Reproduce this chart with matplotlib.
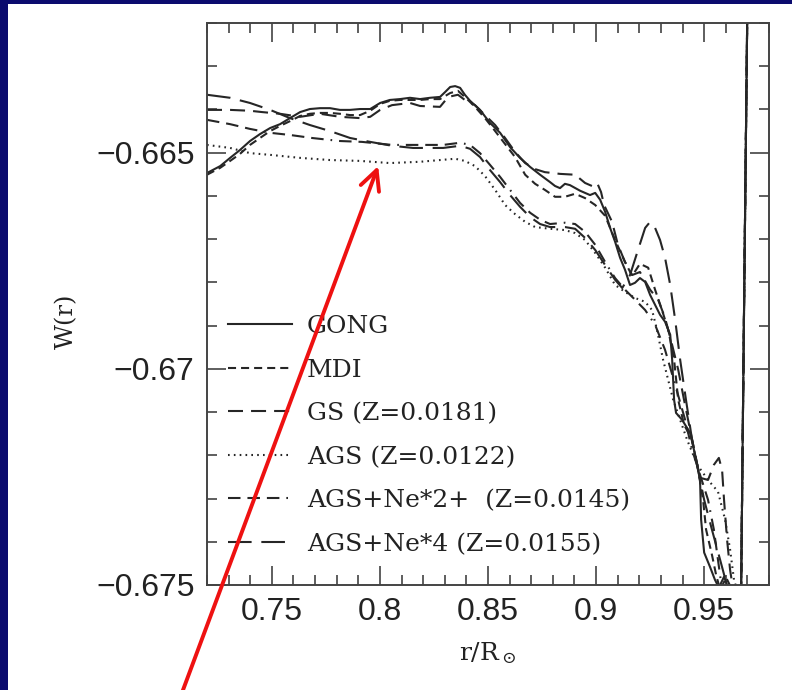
import matplotlib.pyplot as plt
from matplotlib.patches import Rectangle

plt.rcParams['lines.scale_dashes'] = False
plt.rcParams['mathtext.fontset'] = 'dejavuserif'

# W(r) profiles against fractional radius r/R_sun
gong_r = [0.7200, 0.7261, 0.7307, 0.7352, 0.7399, 0.7445, 0.7492, 0.7538, 0.7584, 0.7631,
          0.7676, 0.7723, 0.7769, 0.7815, 0.7862, 0.7908, 0.7955, 0.8001, 0.8046, 0.8093,
          0.8139, 0.8186, 0.8232, 0.8278, 0.8301, 0.8325, 0.8348, 0.8371, 0.8393, 0.8417,
          0.8463, 0.8509, 0.8556, 0.8602, 0.8648, 0.8695, 0.8741, 0.8787, 0.8810, 0.8833,
          0.8856, 0.8879, 0.8926, 0.8972, 0.8996, 0.9019, 0.9042, 0.9065, 0.9088, 0.9111,
          0.9134, 0.9157, 0.9180, 0.9203, 0.9227, 0.9250, 0.9273, 0.9296, 0.9319, 0.9343,
          0.9352, 0.9361, 0.9370, 0.9398, 0.9435, 0.9463, 0.9481, 0.9486, 0.9500, 0.9527,
          0.9550, 0.9568, 0.9592, 0.9611, 0.9643, 0.9671, 0.9685, 0.9699, 0.9708]
gong_w = [-0.66547, -0.66531, -0.66512, -0.66494, -0.66473, -0.66457, -0.66443, -0.66434, -0.66420, -0.66406,
          -0.66399, -0.66397, -0.66397, -0.66401, -0.66401, -0.66399, -0.66399, -0.66385, -0.66378, -0.66376,
          -0.66373, -0.66376, -0.66373, -0.66371, -0.66360, -0.66348, -0.66346, -0.66350, -0.66366, -0.66380,
          -0.66401, -0.66431, -0.66454, -0.66487, -0.66512, -0.66533, -0.66551, -0.66568, -0.66577, -0.66582,
          -0.66572, -0.66575, -0.66588, -0.66598, -0.66593, -0.66609, -0.66637, -0.66674, -0.66706, -0.66743,
          -0.66771, -0.66806, -0.66801, -0.66790, -0.66799, -0.66829, -0.66852, -0.66875, -0.66891, -0.66921,
          -0.66979, -0.67072, -0.67102, -0.67118, -0.67148, -0.67210, -0.67257, -0.67349, -0.67425, -0.67458,
          -0.67488, -0.67506, -0.67481, -0.67506, -0.67511, -0.67511, -0.66840, -0.66200, -0.66008]

mdi_r = [0.7200, 0.7261, 0.7307, 0.7352, 0.7399, 0.7445, 0.7492, 0.7538, 0.7584, 0.7631,
         0.7676, 0.7723, 0.7769, 0.7815, 0.7862, 0.7908, 0.7955, 0.8001, 0.8046, 0.8093,
         0.8139, 0.8186, 0.8232, 0.8278, 0.8325, 0.8361, 0.8393, 0.8440, 0.8486, 0.8533,
         0.8579, 0.8625, 0.8672, 0.8718, 0.8763, 0.8810, 0.8856, 0.8903, 0.8949, 0.8996,
         0.9042, 0.9088, 0.9134, 0.9167, 0.9203, 0.9241, 0.9273, 0.9305, 0.9334, 0.9361,
         0.9380, 0.9407, 0.9444, 0.9472, 0.9495, 0.9509, 0.9536, 0.9555, 0.9574, 0.9602,
         0.9629, 0.9671, 0.9685, 0.9699, 0.9708]
mdi_w = [-0.66551, -0.66535, -0.66519, -0.66503, -0.66482, -0.66466, -0.66450, -0.66438, -0.66427, -0.66415,
         -0.66410, -0.66408, -0.66408, -0.66410, -0.66413, -0.66413, -0.66403, -0.66387, -0.66380, -0.66378,
         -0.66378, -0.66378, -0.66376, -0.66376, -0.66362, -0.66357, -0.66371, -0.66394, -0.66420, -0.66450,
         -0.66480, -0.66510, -0.66551, -0.66572, -0.66586, -0.66602, -0.66602, -0.66595, -0.66605, -0.66621,
         -0.66646, -0.66702, -0.66753, -0.66785, -0.66757, -0.66766, -0.66817, -0.66864, -0.66910, -0.66979,
         -0.67072, -0.67129, -0.67164, -0.67234, -0.67303, -0.67372, -0.67430, -0.67476, -0.67511, -0.67483,
         -0.67511, -0.67511, -0.66840, -0.66200, -0.66008]

gs_r = [0.7200, 0.7307, 0.7399, 0.7454, 0.7538, 0.7631, 0.7723, 0.7815, 0.7908, 0.7955,
        0.8001, 0.8056, 0.8139, 0.8186, 0.8278, 0.8316, 0.8361, 0.8393, 0.8440, 0.8486,
        0.8533, 0.8579, 0.8625, 0.8672, 0.8718, 0.8763, 0.8833, 0.8903, 0.8949, 0.8981,
        0.9005, 0.9023, 0.9037, 0.9074, 0.9101, 0.9134, 0.9167, 0.9203, 0.9250, 0.9287,
        0.9319, 0.9352, 0.9380, 0.9407, 0.9435, 0.9459, 0.9481, 0.9518, 0.9545, 0.9568,
        0.9583, 0.9592, 0.9606, 0.9620, 0.9634, 0.9671, 0.9685, 0.9699, 0.9708]
gs_w = [-0.66401, -0.66401, -0.66403, -0.66406, -0.66410, -0.66417, -0.66410, -0.66417, -0.66420, -0.66417,
        -0.66401, -0.66390, -0.66385, -0.66392, -0.66394, -0.66371, -0.66366, -0.66378, -0.66390, -0.66413,
        -0.66436, -0.66466, -0.66498, -0.66524, -0.66538, -0.66545, -0.66549, -0.66551, -0.66570, -0.66577,
        -0.66570, -0.66591, -0.66621, -0.66660, -0.66713, -0.66753, -0.66783, -0.66776, -0.66817, -0.66840,
        -0.66882, -0.66945, -0.67002, -0.67072, -0.67141, -0.67199, -0.67252, -0.67257, -0.67222, -0.67206,
        -0.67234, -0.67303, -0.67395, -0.67465, -0.67511, -0.67511, -0.66840, -0.66200, -0.66008]

ags_r = [0.7200, 0.7307, 0.7399, 0.7492, 0.7631, 0.7769, 0.7908, 0.8046, 0.8186, 0.8278,
         0.8348, 0.8393, 0.8440, 0.8486, 0.8533, 0.8579, 0.8625, 0.8672, 0.8718, 0.8787,
         0.8856, 0.8903, 0.8949, 0.8996, 0.9042, 0.9088, 0.9134, 0.9180, 0.9227, 0.9259,
         0.9282, 0.9310, 0.9357, 0.9421, 0.9468, 0.9518, 0.9564, 0.9597, 0.9620, 0.9638,
         0.9652, 0.9671, 0.9685, 0.9699, 0.9708]
ags_w = [-0.66482, -0.66489, -0.66501, -0.66505, -0.66512, -0.66517, -0.66519, -0.66524, -0.66521, -0.66517,
         -0.66514, -0.66519, -0.66531, -0.66554, -0.66586, -0.66621, -0.66642, -0.66660, -0.66672, -0.66676,
         -0.66679, -0.66686, -0.66702, -0.66732, -0.66766, -0.66806, -0.66822, -0.66836, -0.66845, -0.66864,
         -0.66910, -0.66979, -0.67072, -0.67164, -0.67222, -0.67257, -0.67284, -0.67349, -0.67418, -0.67488,
         -0.67511, -0.67511, -0.66840, -0.66200, -0.66008]

ne2_r = [0.7200, 0.7307, 0.7399, 0.7492, 0.7584, 0.7686, 0.7815, 0.7917, 0.8056, 0.8153,
         0.8293, 0.8371, 0.8417, 0.8463, 0.8509, 0.8556, 0.8602, 0.8648, 0.8695, 0.8741,
         0.8787, 0.8856, 0.8903, 0.8949, 0.8996, 0.9042, 0.9088, 0.9134, 0.9180, 0.9227,
         0.9273, 0.9319, 0.9366, 0.9412, 0.9444, 0.9481, 0.9518, 0.9545, 0.9564, 0.9583,
         0.9620, 0.9671, 0.9685, 0.9699, 0.9708]
ne2_w = [-0.66424, -0.66434, -0.66445, -0.66454, -0.66459, -0.66466, -0.66473, -0.66475, -0.66482, -0.66482,
         -0.66482, -0.66477, -0.66482, -0.66501, -0.66528, -0.66556, -0.66586, -0.66616, -0.66639, -0.66655,
         -0.66665, -0.66662, -0.66665, -0.66683, -0.66713, -0.66753, -0.66790, -0.66817, -0.66840, -0.66864,
         -0.66898, -0.66956, -0.67037, -0.67118, -0.67187, -0.67245, -0.67303, -0.67372, -0.67442, -0.67511,
         -0.67511, -0.67511, -0.66840, -0.66200, -0.66008]

ne4_r = [0.7200, 0.7307, 0.7399, 0.7492, 0.7584, 0.7676, 0.7769, 0.7862, 0.7955, 0.8056,
         0.8153, 0.8293, 0.8371, 0.8417, 0.8463, 0.8509, 0.8556, 0.8602, 0.8648, 0.8695,
         0.8741, 0.8787, 0.8856, 0.8903, 0.8949, 0.8996, 0.9042, 0.9088, 0.9121, 0.9157,
         0.9194, 0.9227, 0.9250, 0.9273, 0.9296, 0.9319, 0.9343, 0.9366, 0.9389, 0.9416,
         0.9444, 0.9472, 0.9500, 0.9536, 0.9574, 0.9611, 0.9648, 0.9671, 0.9685, 0.9699,
         0.9708]
ne4_w = [-0.66366, -0.66373, -0.66385, -0.66401, -0.66420, -0.66436, -0.66450, -0.66466, -0.66475, -0.66484,
         -0.66489, -0.66489, -0.66484, -0.66491, -0.66510, -0.66540, -0.66568, -0.66598, -0.66625, -0.66649,
         -0.66665, -0.66672, -0.66672, -0.66676, -0.66697, -0.66725, -0.66760, -0.66794, -0.66813, -0.66783,
         -0.66725, -0.66674, -0.66660, -0.66674, -0.66702, -0.66743, -0.66806, -0.66887, -0.66979, -0.67072,
         -0.67164, -0.67234, -0.67303, -0.67372, -0.67442, -0.67511, -0.67511, -0.67511, -0.66840, -0.66200,
         -0.66008]

labels = ['GONG', 'MDI', 'GS (Z=0.0181)', 'AGS (Z=0.0122)',
          'AGS+Ne*2+  (Z=0.0145)', 'AGS+Ne*4 (Z=0.0155)']

xtick_vals = [0.75, 0.80, 0.85, 0.90, 0.95]
xtick_labels = ['0.75', '0.8', '0.85', '0.9', '0.95']
ytick_vals = [-0.665, -0.670, -0.675]
ytick_labels = ['\u22120.665', '\u22120.67', '\u22120.675']

# pointer to the AGS curve
arrow_tip = (0.7992, -0.66531)

series = [(gong_r, gong_w), (mdi_r, mdi_w), (gs_r, gs_w),
          (ags_r, ags_w), (ne2_r, ne2_w), (ne4_r, ne4_w)]
dashes = [None, (5.8, 3.6), (10.8, 5.8), (1.2, 3.0),
          (9, 5, 9, 5, 9, 5, 1.2, 5), (17, 7)]

line_col = '#262626'
text_col = '#222222'
tick_font = ['Liberation Sans Narrow', 'Liberation Sans']
serif_font = 'DejaVu Serif'

fig = plt.figure(figsize=(7.92, 6.90), dpi=100)
fig.patch.set_facecolor('#0b0b6e')
fig.add_artist(Rectangle((8 / 792, 0), 1, 1 - 4 / 690, transform=fig.transFigure,
                         facecolor='white', edgecolor='none', zorder=-10))

ax = fig.add_axes([207 / 792, 1 - 585 / 690, 562 / 792, 562 / 690])

for (r, w), lab, d in zip(series, labels, dashes):
    ln, = ax.plot(r, w, color=line_col, lw=1.5, label=lab)
    if d is not None:
        ln.set_dashes(d)

ax.set_xlim(0.72, 0.98)
ax.set_ylim(-0.675, -0.662)

ax.set_xticks(xtick_vals, xtick_labels, fontsize=23, family=tick_font, color=text_col)
ax.set_yticks(ytick_vals, ytick_labels, fontsize=23, family=tick_font, color=text_col)
ax.xaxis.set_minor_locator(plt.MultipleLocator(0.01))
ax.yaxis.set_minor_locator(plt.MultipleLocator(0.001))
ax.tick_params(which='both', direction='in', top=True, right=True, color='#333333', width=1.1)
ax.tick_params(which='major', length=13.7, pad=9)
ax.tick_params(which='minor', length=7.2)
for s in ax.spines.values():
    s.set_color('#444444')
    s.set_linewidth(1.4)

ax.set_xlabel(r'r/R$_\odot$', fontsize=18, family=serif_font, color=text_col)
ax.xaxis.set_label_coords(0.5, -0.121)
ax.xaxis.label.set_verticalalignment('center')
ax.set_ylabel('W(r)', fontsize=17.5, family=serif_font, color=text_col)
ax.yaxis.set_label_coords(-0.249, 0.470)
ax.yaxis.label.set_verticalalignment('center')

leg = ax.legend(loc='upper left', bbox_to_anchor=(21 / 562, 0.480), frameon=False,
                borderpad=0, borderaxespad=0, handlelength=2.55, handletextpad=0.6,
                labelspacing=0.82, prop={'family': serif_font, 'size': 18})
for t in leg.get_texts():
    t.set_color(text_col)

ax.annotate('', xy=arrow_tip, xycoords='data',
            xytext=(0.2064, -0.076), textcoords='figure fraction',
            arrowprops=dict(arrowstyle='->,head_length=0.7,head_width=0.35',
                            mutation_scale=20, color='#ee1111', lw=2.8,
                            shrinkA=0, shrinkB=0),
            annotation_clip=False, zorder=10)

fig.savefig('out.png', dpi=100, facecolor=fig.get_facecolor())
